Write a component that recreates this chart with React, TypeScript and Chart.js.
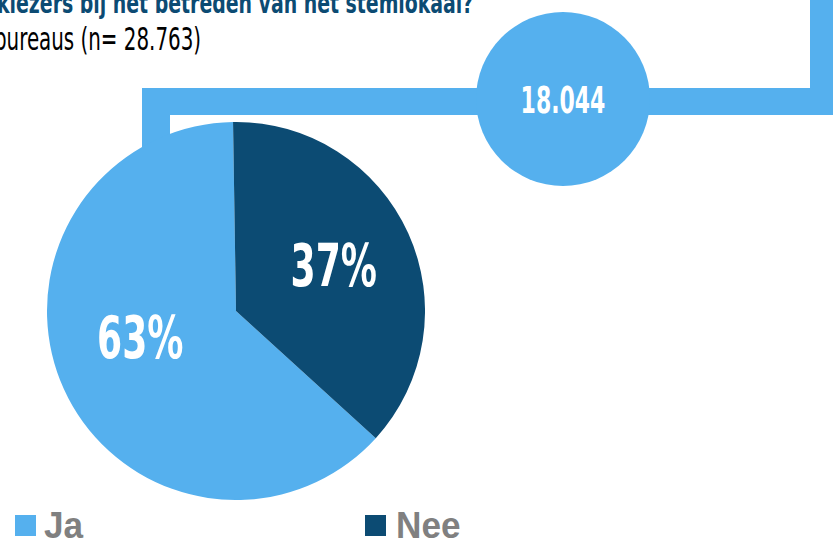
import React, { useEffect, useRef } from "react";
import { Chart, registerables } from "chart.js";

Chart.register(...registerables);

const categories = ["Ja", "Nee"];
const values = [63, 37];
const colors = ["#55B0EE", "#0C4B73"];
const percentLabels = ["63%", "37%"];
const titleLine = "kiezers bij het betreden van het stemlokaal?";
const subtitleLine = "bureaus (n= 28.763)";
const bubbleValue = "18.044";

const LIGHT = "#55B0EE";
const NARROW = '"Liberation Sans Narrow", "DejaVu Sans Condensed", "Liberation Sans", sans-serif';
const LABEL_NUDGE_Y = [-12, 2];
const LABEL_NUDGE_X = [-1, 3];

const labelPlugin = {
  id: "pctLabels",
  afterDatasetsDraw(chart: any) {
    const ctx = chart.ctx;
    const meta = chart.getDatasetMeta(0);
    meta.data.forEach((arc: any, i: number) => {
      const { startAngle, endAngle, outerRadius, x, y } = arc.getProps(
        ["startAngle", "endAngle", "outerRadius", "x", "y"],
        true
      );
      const mid = (startAngle + endAngle) / 2;
      const r = outerRadius * 0.55;
      const px = x + Math.cos(mid) * r + LABEL_NUDGE_X[i];
      const py = y + Math.sin(mid) * r - 5 + LABEL_NUDGE_Y[i];
      ctx.save();
      ctx.translate(px, py + 21);
      ctx.scale(0.68, 1);
      ctx.fillStyle = "#ffffff";
      ctx.font = `bold 59px ${NARROW}`;
      ctx.textAlign = "center";
      ctx.textBaseline = "alphabetic";
      ctx.fillText(percentLabels[i], 0, 0);
      ctx.restore();
    });
  },
};

export default function App() {
  const canvasRef = useRef<HTMLCanvasElement | null>(null);

  useEffect(() => {
    if (!canvasRef.current) return;
    const total = values.reduce((a, b) => a + b, 0);
    const chart = new Chart(canvasRef.current, {
      type: "pie",
      data: {
        labels: categories,
        datasets: [
          {
            data: values,
            backgroundColor: colors,
            borderWidth: 0,
            hoverOffset: 0,
          },
        ],
      },
      options: {
        animation: false,
        responsive: true,
        maintainAspectRatio: false,
        rotation: (values[1] / total) * 360 - 0.9,
        layout: { padding: 0 },
        plugins: {
          legend: { display: false },
          tooltip: { enabled: false },
        },
        events: [],
      },
      plugins: [labelPlugin],
    });
    return () => chart.destroy();
  }, []);

  const abs = (s: React.CSSProperties): React.CSSProperties => ({ position: "absolute", ...s });

  return (
    <div
      style={{
        position: "fixed",
        left: 0,
        top: 0,
        width: 833,
        height: 538,
        overflow: "hidden",
        background: "#ffffff",
      }}
    >
      {/* title lines */}
      <div
        style={abs({
          left: -3,
          top: 14 - 0.8465 * 28,
          fontFamily: NARROW,
          fontWeight: "bold",
          fontSize: 28,
          lineHeight: 1,
          color: "#0C4B73",
          whiteSpace: "nowrap",
          transform: "scaleX(0.75)",
          transformOrigin: "left top",
        })}
      >
        {titleLine}
      </div>
      <div
        style={abs({
          left: -6,
          top: 50 - 0.8465 * 32,
          fontFamily: NARROW,
          fontSize: 32,
          lineHeight: 1,
          color: "#000000",
          whiteSpace: "nowrap",
          transform: "scaleX(0.69)",
          transformOrigin: "left top",
        })}
      >
        {subtitleLine}
      </div>

      {/* connector */}
      <div style={abs({ left: 142, top: 88, width: 833 - 142, height: 27, background: LIGHT })} />
      <div style={abs({ left: 142, top: 88, width: 28, height: 80, background: LIGHT })} />
      <div style={abs({ left: 810, top: 0, width: 23, height: 115, background: LIGHT })} />

      {/* pie */}
      <div style={abs({ left: 47, top: 122, width: 378, height: 378 })}>
        <canvas ref={canvasRef} />
      </div>

      {/* bubble */}
      <div
        style={abs({
          left: 563 - 87,
          top: 99 - 87,
          width: 174,
          height: 174,
          borderRadius: "50%",
          background: LIGHT,
        })}
      />
      <div
        style={abs({
          left: 563 - 87,
          width: 174,
          top: 113 - 0.8465 * 37,
          textAlign: "center",
          fontFamily: NARROW,
          fontWeight: "bold",
          fontSize: 37,
          lineHeight: 1,
          color: "#ffffff",
          transform: "scaleX(0.66)",
          transformOrigin: "center top",
        })}
      >
        {bubbleValue}
      </div>

      {/* legend */}
      {categories.map((c, i) => (
        <div key={c}>
          <div
            style={abs({
              left: i === 0 ? 15 : 365,
              top: 515,
              width: 21,
              height: 21,
              background: colors[i],
            })}
          />
          <div
            style={abs({
              left: i === 0 ? 44 : 396,
              top: 538 - 0.8465 * 37,
              fontFamily: '"Liberation Sans", Arial, sans-serif',
              fontWeight: "bold",
              fontSize: 37,
              lineHeight: 1,
              color: "#808080",
              whiteSpace: "nowrap",
              transform: "scaleX(0.95)",
              transformOrigin: "left top",
            })}
          >
            {c}
          </div>
        </div>
      ))}
    </div>
  );
}
